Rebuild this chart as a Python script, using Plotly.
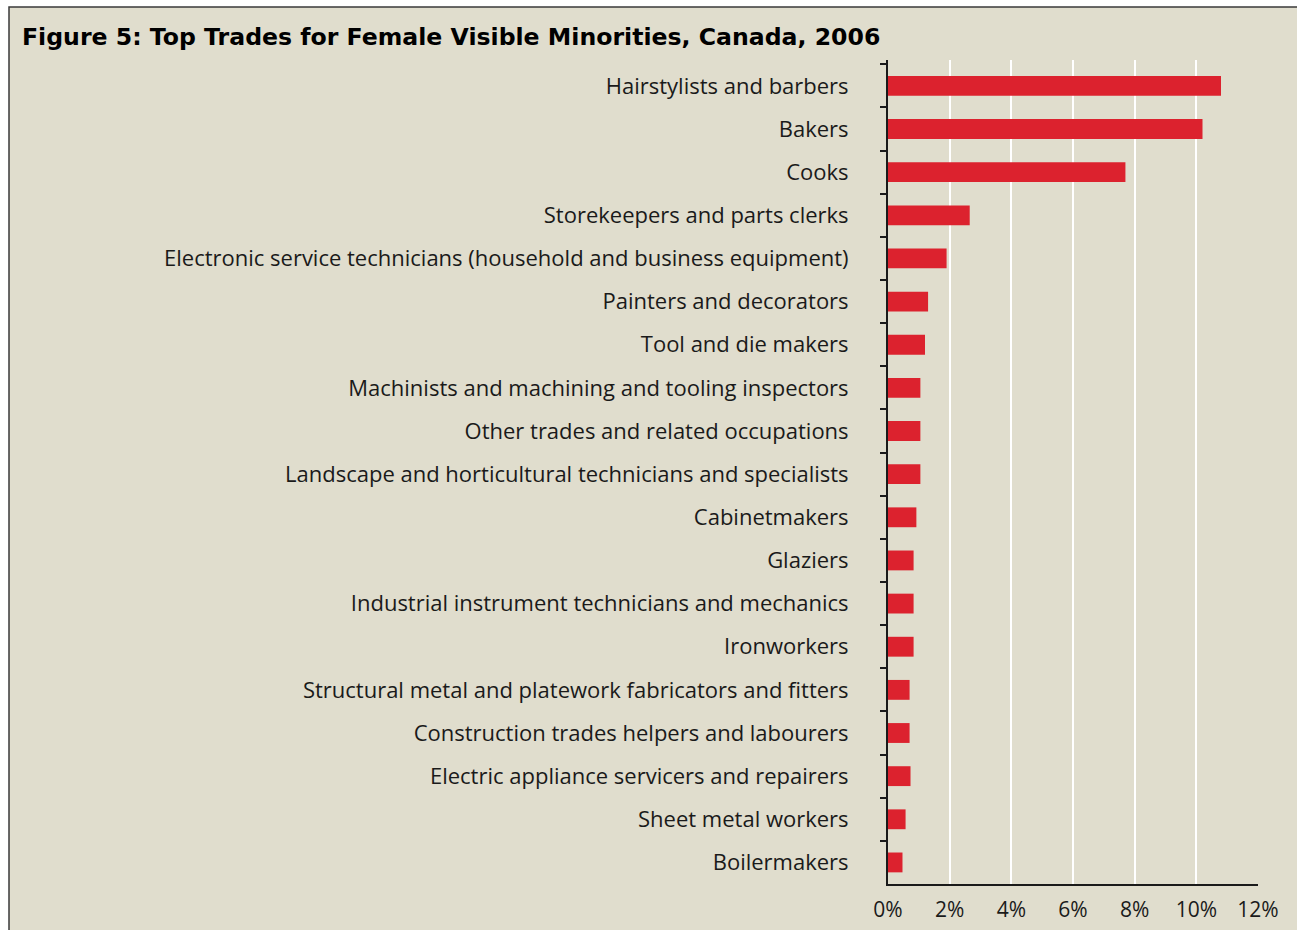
import plotly.graph_objects as go

trades = [
    "Hairstylists and barbers",
    "Bakers",
    "Cooks",
    "Storekeepers and parts clerks",
    "Electronic service technicians (household and business equipment)",
    "Painters and decorators",
    "Tool and die makers",
    "Machinists and machining and tooling inspectors",
    "Other trades and related occupations",
    "Landscape and horticultural technicians and specialists",
    "Cabinetmakers",
    "Glaziers",
    "Industrial instrument technicians and mechanics",
    "Ironworkers",
    "Structural metal and platework fabricators and fitters",
    "Construction trades helpers and labourers",
    "Electric appliance servicers and repairers",
    "Sheet metal workers",
    "Boilermakers",
]
share_pct = [10.8, 10.2, 7.7, 2.65, 1.9, 1.3, 1.2, 1.05, 1.05, 1.05, 0.92,
             0.83, 0.83, 0.83, 0.7, 0.7, 0.73, 0.57, 0.47]
x_ticks = [0, 2, 4, 6, 8, 10, 12]
x_tick_labels = ["0%", "2%", "4%", "6%", "8%", "10%", "12%"]

BG = "#E0DDCD"
RED = "#DC222E"
FONT = "Open Sans"

fig = go.Figure(go.Bar(
    x=share_pct, y=trades, orientation="h",
    marker=dict(color=RED, line=dict(width=0)),
    width=0.46,
))

W, H = 1297, 930
L, R, T, B = 888, 39, 60, 46
pw = W - L - R
ph = H - T - B
fx = lambda px: (px - L) / pw
fy = lambda py: (H - B - py) / ph

fig.add_shape(type="rect", xref="paper", yref="paper",
              x0=fx(9), x1=fx(1320), y0=fy(960), y1=fy(7),
              fillcolor=BG, line=dict(color="#3a3a3a", width=1.5), layer="below")

fig.update_layout(
    width=W, height=H,
    autosize=False,
    margin=dict(l=L, r=R, t=T, b=B, autoexpand=False),
    paper_bgcolor="white",
    plot_bgcolor="rgba(0,0,0,0)",
    showlegend=False,
    font=dict(family=FONT, color="#1a1a1a", size=22),
    title=dict(
        text="<b>Figure 5: Top Trades for Female Visible Minorities, Canada, 2006</b>",
        xref="container", yref="container", automargin=False,
        x=22 / W, xanchor="left", y=1 - 37 / H, yanchor="middle",
        font=dict(family="DejaVu Sans", size=23.6, color="#000000"),
    ),
    xaxis=dict(
        range=[0, 12], tickvals=x_ticks, ticktext=x_tick_labels,
        showgrid=True, gridcolor="white", gridwidth=2,
        zeroline=False, showline=True, linecolor="#1a1a1a", linewidth=2,
        ticks="", tickfont=dict(size=21), ticklabelstandoff=6,
        automargin=False, fixedrange=True,
    ),
    yaxis=dict(
        type="category", range=[18.5, -0.6],
        showgrid=False, zeroline=False,
        showline=True, linecolor="#1a1a1a", linewidth=2,
        ticks="outside", ticklen=6, tickwidth=2, tickcolor="#1a1a1a",
        tickson="boundaries", ticklabelstandoff=33,
        tickfont=dict(size=22), automargin=False,
    ),
)

fig.write_html("out.html")
